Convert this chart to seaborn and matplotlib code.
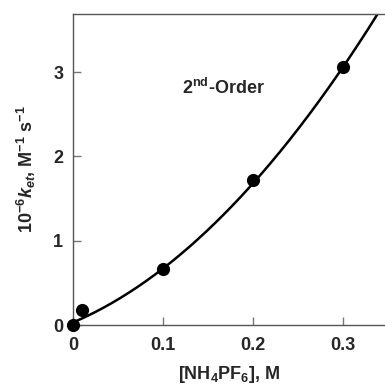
import numpy as np
import pandas as pd
import matplotlib
matplotlib.use("Agg")
import matplotlib.pyplot as plt
import seaborn as sns

# Data
conc = [0.0, 0.01, 0.1, 0.2, 0.3]          # [NH4PF6], M
k_et = [0.0, 0.18, 0.66, 1.72, 3.06]       # 10^-6 k_et, M^-1 s^-1

# Second-order fit coefficients (k = c0 + c1*x + c2*x^2)
fit_c0 = 0.03
fit_c1 = 4.55
fit_c2 = 18.5

x_ticks = [0, 0.1, 0.2, 0.3]
x_ticklabels = ["0", "0.1", "0.2", "0.3"]
y_ticks = [0, 1, 2, 3]
y_ticklabels = ["0", "1", "2", "3"]

sns.set_style("white")
plt.rcParams['font.family'] = ['Liberation Sans', 'DejaVu Sans']
plt.rcParams['mathtext.fontset'] = 'custom'
plt.rcParams['mathtext.rm'] = 'Liberation Sans:bold'
plt.rcParams['mathtext.it'] = 'Liberation Sans:bold:italic'
plt.rcParams['mathtext.bf'] = 'Liberation Sans:bold'

FS = 13

fig = plt.figure(figsize=(3.85, 3.87), dpi=100)
ax = fig.add_axes([73/385, 1 - 325/387, (385 - 73)/385, (325 - 14)/387])

xf = np.linspace(0, 0.36, 300)
df_fit = pd.DataFrame({"x": xf, "y": fit_c0 + fit_c1 * xf + fit_c2 * xf**2})
sns.lineplot(data=df_fit, x="x", y="y", ax=ax, color="black", lw=1.8)

df = pd.DataFrame({"x": conc, "y": k_et})
sns.scatterplot(data=df, x="x", y="y", ax=ax, color="black", s=90,
                edgecolor="black", linewidth=0, zorder=5, clip_on=False)

ax.set_xlim(0, 312/900)
ax.set_ylim(0, 311/84.3)

ax.set_xticks(x_ticks)
ax.set_xticklabels(x_ticklabels, fontweight="bold", fontsize=FS)
ax.set_yticks(y_ticks)
ax.set_yticklabels(y_ticklabels, fontweight="bold", fontsize=FS)
ax.tick_params(bottom=True, left=True, direction="in", length=6, width=1,
               color="#777777")
ax.tick_params(axis="x", pad=9)
ax.tick_params(axis="y", pad=7)

for s in ["left", "bottom", "top"]:
    ax.spines[s].set_color("#555555")
    ax.spines[s].set_linewidth(1.0)
ax.spines["right"].set_visible(False)

ax.set_xlabel(r"[NH$_4$PF$_6$], M", fontweight="bold", fontsize=FS, labelpad=7)
ax.set_ylabel(r"10$^{-6}$$k_{et}$, M$^{-1}$ s$^{-1}$", fontweight="bold",
              fontsize=FS, labelpad=11)

ax.text(0.121, 2.81, r"2$^{\mathrm{nd}}$-Order", fontweight="bold", fontsize=FS,
        ha="left", va="center")

fig.savefig("out.png", dpi=100)
